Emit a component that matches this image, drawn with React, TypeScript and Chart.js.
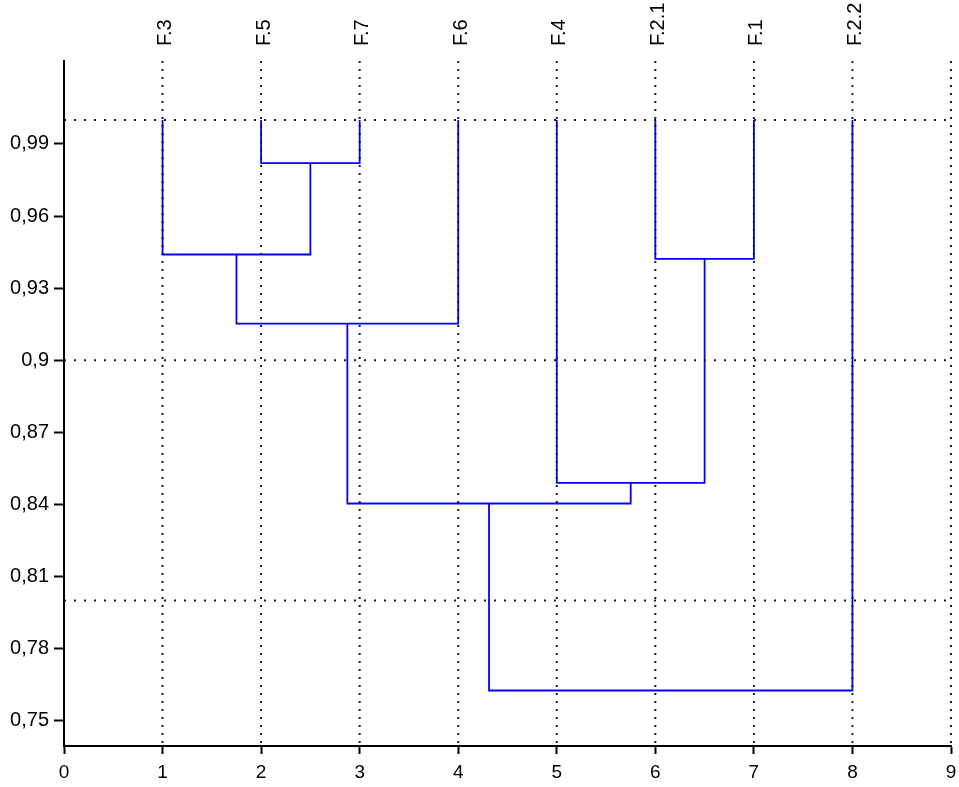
import React, { useEffect, useRef } from 'react';
import { Chart, registerables } from 'chart.js';

Chart.register(...registerables);

// Leaves of the dendrogram (left to right) and their positions on the x axis
const leafLabels = ['F.3', 'F.5', 'F.7', 'F.6', 'F.4', 'F.2.1', 'F.1', 'F.2.2'];
const leafPositions = [1, 2, 3, 4, 5, 6, 7, 8];
const leafHeight = 1.0;

// Merges: node ids 0-7 are leaves, each merge creates a new node id (8, 9, ...)
const mergeLeft = [1, 0, 9, 5, 4, 10, 13];
const mergeRight = [2, 8, 3, 6, 11, 12, 7];
const mergeHeights = [0.982, 0.944, 0.9152, 0.9422, 0.849, 0.8404, 0.7626];

// Axis ticks
const xTicks = [0, 1, 2, 3, 4, 5, 6, 7, 8, 9];
const yTicks = [0.75, 0.78, 0.81, 0.84, 0.87, 0.9, 0.93, 0.96, 0.99];

// Dotted reference lines
const gridYValues = [0.8, 0.9, 1.0];
const gridXValues = [1, 2, 3, 4, 5, 6, 7, 8, 9];

const X_MIN = 0;
const X_MAX = 9;
const Y_MIN = 0.7395;
const Y_MAX = 1.0245;

const FONT = 'Arial, "Liberation Sans", Helvetica, sans-serif';

function buildDatasets() {
  const nodeX: number[] = [...leafPositions];
  const nodeH: number[] = leafPositions.map(() => leafHeight);
  const datasets: any[] = [];

  gridXValues.forEach((gx) => {
    datasets.push({
      type: 'scatter',
      data: [
        { x: gx, y: Y_MAX },
        { x: gx, y: Y_MIN },
      ],
      showLine: true,
      borderColor: '#1a1a1a',
      borderWidth: 2,
      borderDash: [2, 6],
      pointRadius: 0,
      fill: false,
      clip: false,
      xAxisID: 'x',
      yAxisID: 'y',
    });
  });
  gridYValues.forEach((gy) => {
    datasets.push({
      type: 'scatter',
      data: [
        { x: X_MIN, y: gy },
        { x: X_MAX, y: gy },
      ],
      showLine: true,
      borderColor: '#1a1a1a',
      borderWidth: 2,
      borderDash: [2, 8],
      pointRadius: 0,
      fill: false,
      clip: false,
      xAxisID: 'x',
      yAxisID: 'y',
    });
  });

  mergeHeights.forEach((h, i) => {
    const l = mergeLeft[i];
    const r = mergeRight[i];
    datasets.push({
      type: 'scatter',
      data: [
        { x: nodeX[l], y: nodeH[l] },
        { x: nodeX[l], y: h },
        { x: nodeX[r], y: h },
        { x: nodeX[r], y: nodeH[r] },
      ],
      showLine: true,
      borderColor: '#0000ff',
      borderWidth: 1.8,
      pointRadius: 0,
      fill: false,
      tension: 0,
      clip: false,
      xAxisID: 'x',
      yAxisID: 'y',
    });
    nodeX.push((nodeX[l] + nodeX[r]) / 2);
    nodeH.push(h);
  });
  return datasets;
}

export default function App() {
  const ref = useRef<HTMLCanvasElement | null>(null);

  useEffect(() => {
    if (!ref.current) return;
    const chart = new Chart(ref.current, {
      type: 'scatter',
      data: { datasets: buildDatasets() },
      options: {
        animation: false,
        responsive: false,
        layout: { padding: { left: 0, right: 8, top: 0, bottom: 0 } },
        plugins: {
          legend: { display: false },
          tooltip: { enabled: false },
        },
        scales: {
          x: {
            type: 'linear',
            position: 'bottom',
            min: X_MIN,
            max: X_MAX,
            afterBuildTicks: (s: any) => {
              s.ticks = xTicks.map((v) => ({ value: v }));
            },
            afterFit: (s: any) => {
              s.height = 41;
              s.paddingLeft = 0;
              s.paddingRight = 0;
            },
            ticks: {
              color: '#000',
              font: { family: FONT, size: 19 },
              padding: 7,
              maxRotation: 0,
              autoSkip: false,
              callback: (v: any) => String(v),
            },
            grid: {
              drawOnChartArea: false,
              drawTicks: true,
              tickLength: 8,
              tickColor: '#000',
              tickWidth: 2,
            },
            border: { display: true, color: '#000', width: 2 },
          },
          x2: {
            type: 'linear',
            position: 'top',
            min: X_MIN,
            max: X_MAX,
            afterBuildTicks: (s: any) => {
              s.ticks = leafPositions.map((v) => ({ value: v }));
            },
            afterFit: (s: any) => {
              s.height = 61;
              s.paddingLeft = 0;
              s.paddingRight = 0;
            },
            ticks: {
              color: '#000',
              font: { family: FONT, size: 20 },
              padding: 15,
              labelOffset: 27,
              minRotation: 90,
              maxRotation: 90,
              autoSkip: false,
              callback: (v: any) => {
                const i = leafPositions.indexOf(Number(v));
                return i >= 0 ? leafLabels[i] : '';
              },
            },
            grid: { display: false, drawTicks: false },
            border: { display: false },
          },
          y: {
            type: 'linear',
            position: 'left',
            min: Y_MIN,
            max: Y_MAX,
            afterBuildTicks: (s: any) => {
              s.ticks = yTicks.map((v) => ({ value: v }));
            },
            afterFit: (s: any) => {
              s.width = 64;
              s.paddingTop = 0;
              s.paddingBottom = 0;
            },
            ticks: {
              color: '#000',
              font: { family: FONT, size: 20 },
              padding: 5,
              autoSkip: false,
              callback: (v: any) => String(v).replace('.', ','),
            },
            grid: {
              drawOnChartArea: false,
              drawTicks: true,
              tickLength: 10,
              tickColor: '#000',
              tickWidth: 2,
            },
            border: { display: true, color: '#000', width: 2 },
          },
        },
      } as any,
    });
    return () => chart.destroy();
  }, []);

  return (
    <div style={{ position: 'fixed', left: 0, top: 0, width: 959, height: 787, background: '#fff' }}>
      <canvas ref={ref} width={959} height={787} style={{ display: 'block' }} />
    </div>
  );
}
